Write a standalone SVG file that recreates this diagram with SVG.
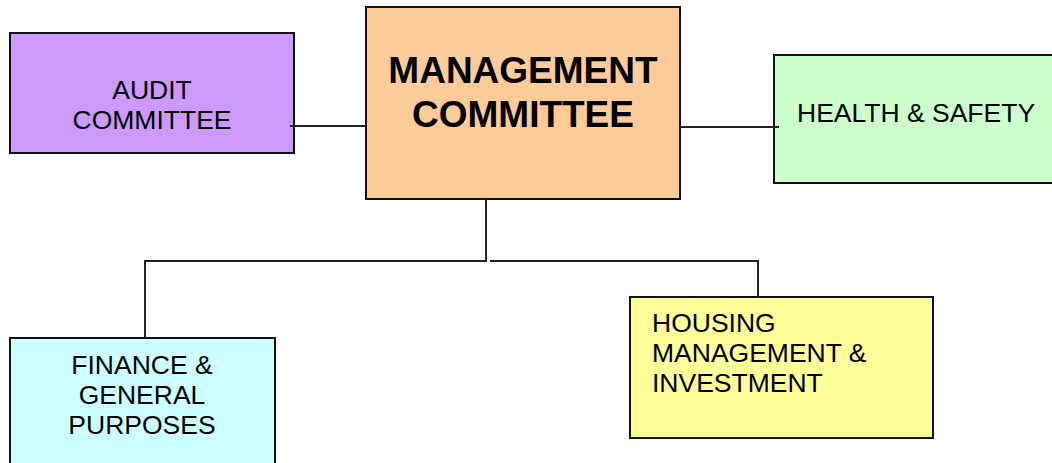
<svg xmlns="http://www.w3.org/2000/svg" width="1052" height="463" viewBox="0 0 1052 463">
<style>
.box{stroke:#111;stroke-width:2}
.t{font-family:"Liberation Sans",Arial,sans-serif;font-size:26.5px;fill:#000}
.b{font-family:"Liberation Sans",Arial,sans-serif;font-size:37px;font-weight:bold;fill:#000}
.c{fill:none;stroke:#222;stroke-width:2}
</style>
<rect width="1052" height="463" fill="#fff"/>
<g id="audit">
<rect class="box" x="10" y="33" width="284" height="120" fill="#CC99FF"/>
<text class="t" text-anchor="middle" x="152" y="99">AUDIT</text>
<text class="t" text-anchor="middle" x="152" y="129">COMMITTEE</text>
</g>
<g id="management">
<rect class="box" x="366" y="7" width="314" height="192" fill="#FFCC99" stroke="#333"/>
<text class="b" text-anchor="middle" x="523" y="83">MANAGEMENT</text>
<text class="b" text-anchor="middle" x="523" y="127">COMMITTEE</text>
</g>
<g id="health">
<rect class="box" x="774" y="55" width="290" height="128" fill="#CCFFCC"/>
<text class="t" x="797" y="122">HEALTH &amp; SAFETY</text>
</g>
<g id="finance">
<rect class="box" x="10" y="338" width="265" height="140" fill="#CCFFFF"/>
<text class="t" text-anchor="middle" x="142" y="374">FINANCE &amp;</text>
<text class="t" text-anchor="middle" x="142" y="404">GENERAL</text>
<text class="t" text-anchor="middle" x="142" y="434">PURPOSES</text>
</g>
<g id="housing">
<rect class="box" x="630" y="297" width="303" height="141" fill="#FFFF99"/>
<text class="t" x="652" y="332">HOUSING</text>
<text class="t" x="652" y="362">MANAGEMENT &amp;</text>
<text class="t" x="652" y="392">INVESTMENT</text>
</g>
<g id="connectors">
<line class="c" x1="290" y1="126" x2="366" y2="126"/>
<line class="c" x1="680" y1="127" x2="779" y2="127"/>
<polyline class="c" points="486,199 486,261 145,261 145,338"/>
<polyline class="c" points="490,261 758,261 758,298"/>
</g>
</svg>
